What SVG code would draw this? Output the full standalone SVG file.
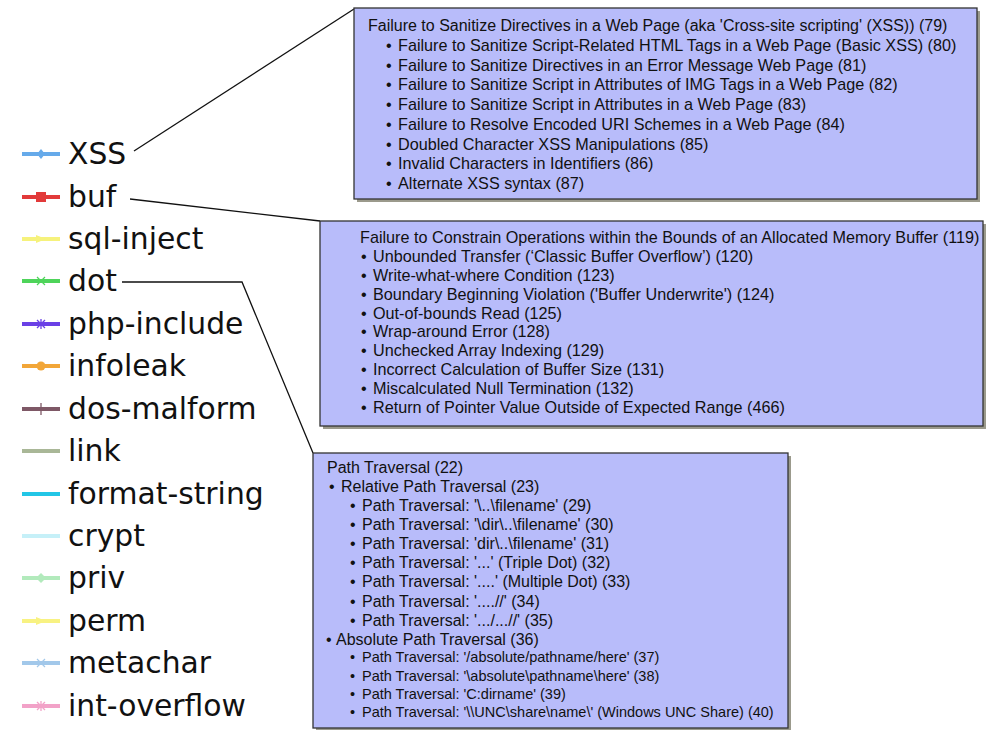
<svg xmlns="http://www.w3.org/2000/svg" width="991" height="730" viewBox="0 0 991 730">
  <style>
    .lg { font-family: "DejaVu Sans", Verdana, sans-serif; font-size: 29.8px; fill: #111; }
    .bx { font-family: "Liberation Sans", Arial, sans-serif; font-size: 16px; fill: #111; }
    .wide { font-size: 16.2px; }
    .sm { font-size: 14.5px; }
    .card { fill: #b8bcfa; stroke: #333; stroke-width: 1.3; }
    .shadow { fill: #8a8878; opacity: 0.85; }
    .sw { stroke-width: 4; fill: none; }
    .conn { stroke: #111; stroke-width: 1.3; fill: none; }
  </style>

  <rect width="991" height="730" fill="#ffffff"/>

  <!-- legend: swatch + label per series -->
  <g id="legend">
    <g id="lg-xss">
      <line class="sw" x1="22" y1="154" x2="60" y2="154" stroke="#66aaea"/>
      <path d="M41 149 L45 154 L41 159 L37 154 Z" fill="#66aaea"/>
      <text class="lg" x="68" y="164">XSS</text>
    </g>
    <g id="lg-buf">
      <line class="sw" x1="22" y1="197" x2="60" y2="197" stroke="#e23a3a"/>
      <rect x="36" y="192" width="10" height="10" fill="#e23a3a"/>
      <text class="lg" x="68" y="207">buf</text>
    </g>
    <g id="lg-sql">
      <line class="sw" x1="22" y1="239" x2="60" y2="239" stroke="#f6f27c"/>
      <path d="M36 235 L46 239 L36 243 Z" fill="#f6f27c"/>
      <text class="lg" x="68" y="249">sql-inject</text>
    </g>
    <g id="lg-dot">
      <line class="sw" x1="22" y1="281" x2="60" y2="281" stroke="#4ed45a"/>
      <path d="M37 277 L45 285 M37 285 L45 277" stroke="#4ed45a" stroke-width="1.2"/>
      <text class="lg" x="68" y="291">dot</text>
    </g>
    <g id="lg-php">
      <line class="sw" x1="22" y1="324" x2="60" y2="324" stroke="#6a40e6"/>
      <path d="M37 320 L45 328 M37 328 L45 320 M41 319 L41 329" stroke="#6a40e6" stroke-width="1.3"/>
      <text class="lg" x="68" y="334">php-include</text>
    </g>
    <g id="lg-infoleak">
      <line class="sw" x1="22" y1="366" x2="60" y2="366" stroke="#f2a638"/>
      <circle cx="41" cy="366" r="4.5" fill="#f2a638"/>
      <text class="lg" x="68" y="376">infoleak</text>
    </g>
    <g id="lg-dos">
      <line class="sw" x1="22" y1="409" x2="60" y2="409" stroke="#7e5866"/>
      <line x1="41" y1="403" x2="41" y2="415" stroke="#7e5866" stroke-width="1.3"/>
      <text class="lg" x="68" y="419">dos-malform</text>
    </g>
    <g id="lg-link">
      <line class="sw" x1="22" y1="451" x2="60" y2="451" stroke="#a9b797"/>
      <text class="lg" x="68" y="461">link</text>
    </g>
    <g id="lg-format">
      <line class="sw" x1="22" y1="494" x2="60" y2="494" stroke="#22c6e6"/>
      <text class="lg" x="68" y="504">format-string</text>
    </g>
    <g id="lg-crypt">
      <line class="sw" x1="22" y1="536" x2="60" y2="536" stroke="#c6f0f8"/>
      <text class="lg" x="68" y="546">crypt</text>
    </g>
    <g id="lg-priv">
      <line class="sw" x1="22" y1="578" x2="60" y2="578" stroke="#b2eabc"/>
      <path d="M41 573 L46 578 L41 583 L36 578 Z" fill="#b2eabc"/>
      <text class="lg" x="68" y="588">priv</text>
    </g>
    <g id="lg-perm">
      <line class="sw" x1="22" y1="621" x2="60" y2="621" stroke="#f8f282"/>
      <path d="M36 617 L46 621 L36 625 Z" fill="#f8f282"/>
      <text class="lg" x="68" y="631">perm</text>
    </g>
    <g id="lg-metachar">
      <line class="sw" x1="22" y1="663" x2="60" y2="663" stroke="#a2c8ea"/>
      <path d="M37 659 L45 667 M37 667 L45 659" stroke="#a2c8ea" stroke-width="1.2"/>
      <text class="lg" x="68" y="673">metachar</text>
    </g>
    <g id="lg-intoverflow">
      <line class="sw" x1="22" y1="706" x2="60" y2="706" stroke="#f2a2c8"/>
      <path d="M37 702 L45 710 M37 710 L45 702 M41 701 L41 711" stroke="#f2a2c8" stroke-width="1.3"/>
      <text class="lg" x="68" y="716">int-overflow</text>
    </g>
  </g>

  <!-- leader lines from legend entries to their callouts -->
  <g id="connectors">
    <line class="conn" x1="134" y1="151" x2="354" y2="9"/>
    <line class="conn" x1="130" y1="199" x2="320" y2="221"/>
    <polyline class="conn" points="122,282 242,282 313,453"/>
  </g>

  <!-- XSS callout -->
  <g id="box-xss">
    <rect class="shadow" x="357" y="11" width="623" height="191"/>
    <rect class="card" x="354" y="8" width="623" height="191"/>
    <text class="bx" x="368" y="31">Failure to Sanitize Directives in a Web Page (aka 'Cross-site scripting' (XSS)) (79)</text>
    <g class="bx wide">
      <text x="386" y="50.8">• <tspan x="398">Failure to Sanitize Script-Related HTML Tags in a Web Page (Basic XSS) (80)</tspan></text>
      <text x="386" y="70.5">• <tspan x="398">Failure to Sanitize Directives in an Error Message Web Page (81)</tspan></text>
      <text x="386" y="90.3">• <tspan x="398">Failure to Sanitize Script in Attributes of IMG Tags in a Web Page (82)</tspan></text>
      <text x="386" y="110">• <tspan x="398">Failure to Sanitize Script in Attributes in a Web Page (83)</tspan></text>
      <text x="386" y="129.8">• <tspan x="398">Failure to Resolve Encoded URI Schemes in a Web Page (84)</tspan></text>
      <text x="386" y="149.5">• <tspan x="398">Doubled Character XSS Manipulations (85)</tspan></text>
      <text x="386" y="169.3">• <tspan x="398">Invalid Characters in Identifiers (86)</tspan></text>
      <text x="386" y="189">• <tspan x="398">Alternate XSS syntax (87)</tspan></text>
    </g>
  </g>

  <!-- buffer callout -->
  <g id="box-buf">
    <rect class="shadow" x="323" y="224" width="663" height="205"/>
    <rect class="card" x="320" y="221" width="663" height="205"/>
    <g class="bx wide">
      <text x="360" y="243.3">Failure to Constrain Operations within the Bounds of an Allocated Memory Buffer (119)</text>
      <text x="361" y="262.1">• <tspan x="373">Unbounded Transfer (‘Classic Buffer Overflow’) (120)</tspan></text>
      <text x="361" y="280.9">• <tspan x="373">Write-what-where Condition (123)</tspan></text>
      <text x="361" y="299.7">• <tspan x="373">Boundary Beginning Violation ('Buffer Underwrite') (124)</tspan></text>
      <text x="361" y="318.5">• <tspan x="373">Out-of-bounds Read (125)</tspan></text>
      <text x="361" y="337.3">• <tspan x="373">Wrap-around Error (128)</tspan></text>
      <text x="361" y="356.1">• <tspan x="373">Unchecked Array Indexing (129)</tspan></text>
      <text x="361" y="374.9">• <tspan x="373">Incorrect Calculation of Buffer Size (131)</tspan></text>
      <text x="361" y="393.7">• <tspan x="373">Miscalculated Null Termination (132)</tspan></text>
      <text x="361" y="412.5">• <tspan x="373">Return of Pointer Value Outside of Expected Range (466)</tspan></text>
    </g>
  </g>

  <!-- path traversal callout -->
  <g id="box-dot">
    <rect class="shadow" x="316" y="456" width="475" height="275"/>
    <rect class="card" x="313" y="453" width="475" height="275"/>
    <text class="bx" x="327" y="473">Path Traversal (22)</text>
    <text class="bx" x="329" y="492">• <tspan x="341">Relative Path Traversal (23)</tspan></text>
    <text class="bx" x="350" y="511">• <tspan x="362">Path Traversal: '\..\filename' (29)</tspan></text>
    <text class="bx" x="350" y="530">• <tspan x="362">Path Traversal: '\dir\..\filename' (30)</tspan></text>
    <text class="bx" x="350" y="549.2">• <tspan x="362">Path Traversal: 'dir\..\filename' (31)</tspan></text>
    <text class="bx" x="350" y="568.3">• <tspan x="362">Path Traversal: '...' (Triple Dot) (32)</tspan></text>
    <text class="bx" x="350" y="587.4">• <tspan x="362">Path Traversal: '....' (Multiple Dot) (33)</tspan></text>
    <text class="bx" x="350" y="606.5">• <tspan x="362">Path Traversal: '....//' (34)</tspan></text>
    <text class="bx" x="350" y="625.6">• <tspan x="362">Path Traversal: '.../...//' (35)</tspan></text>
    <text class="bx" x="326" y="644.7">• <tspan x="336">Absolute Path Traversal (36)</tspan></text>
    <text class="bx sm" x="350" y="662.3">• <tspan x="362">Path Traversal: '/absolute/pathname/here' (37)</tspan></text>
    <text class="bx sm" x="350" y="680.5">• <tspan x="362">Path Traversal: '\absolute\pathname\here' (38)</tspan></text>
    <text class="bx sm" x="350" y="698.7">• <tspan x="362">Path Traversal: 'C:dirname' (39)</tspan></text>
    <text class="bx sm" x="350" y="716.9">• <tspan x="362">Path Traversal: '\\UNC\share\name\' (Windows UNC Share) (40)</tspan></text>
  </g>
</svg>
